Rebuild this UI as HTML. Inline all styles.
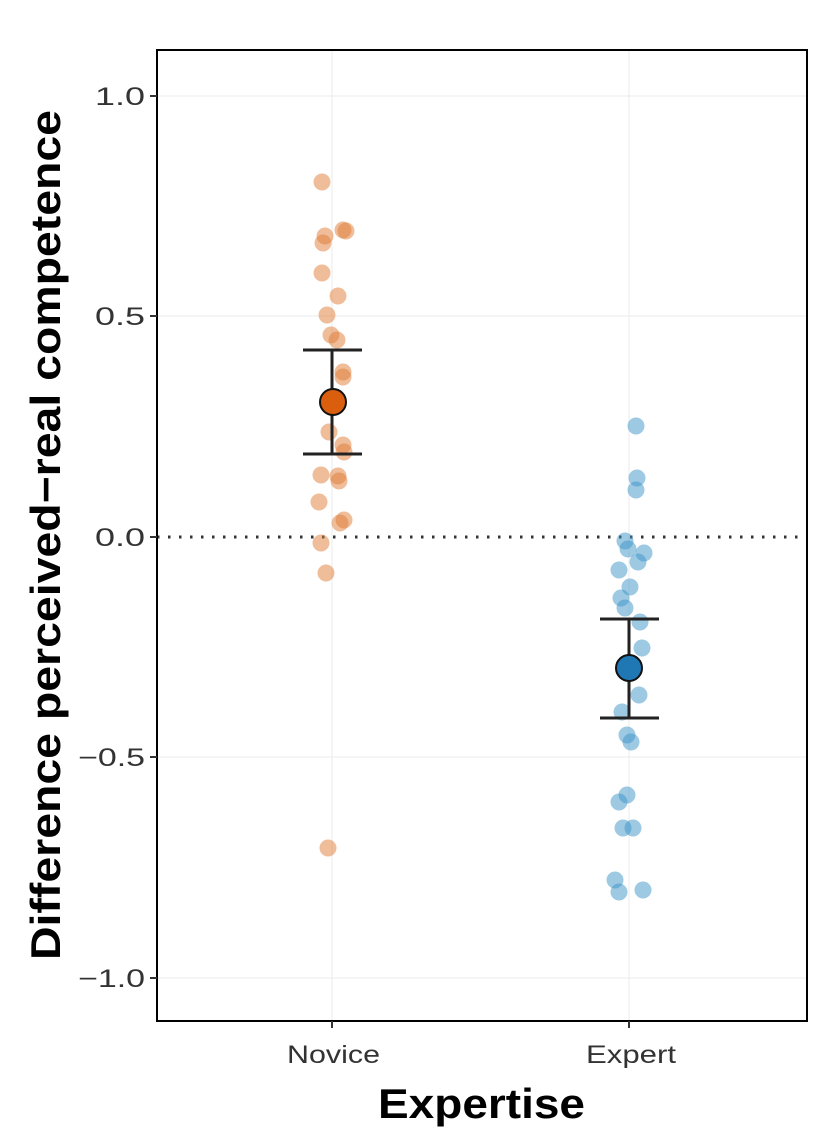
<!DOCTYPE html>
<html><head><style>body{margin:0;background:#fff}</style></head><body>
<svg width="840" height="1138" xmlns="http://www.w3.org/2000/svg" font-family="Liberation Sans, sans-serif">
<rect width="840" height="1138" fill="#fff"/>
<g stroke="#ebebeb" stroke-width="1">
<line x1="157" x2="807" y1="96" y2="96"/><line x1="157" x2="807" y1="316" y2="316"/><line x1="157" x2="807" y1="757" y2="757"/><line x1="157" x2="807" y1="978" y2="978"/>
<line x1="332" x2="332" y1="50" y2="1021"/><line x1="629" x2="629" y1="50" y2="1021"/>
</g>
<line x1="157" x2="807" y1="537" y2="537" stroke="#333" stroke-width="3" stroke-dasharray="2.5,8.5"/>
<g fill="#e07b35" fill-opacity="0.5">
<circle cx="322" cy="182" r="8.5"/><circle cx="325" cy="236" r="8.5"/><circle cx="323" cy="243" r="8.5"/><circle cx="343" cy="230" r="8.5"/><circle cx="346" cy="231" r="8.5"/><circle cx="322" cy="273" r="8.5"/><circle cx="338" cy="296" r="8.5"/><circle cx="327" cy="315" r="8.5"/><circle cx="331" cy="335" r="8.5"/><circle cx="337" cy="340" r="8.5"/><circle cx="343" cy="372" r="8.5"/><circle cx="343" cy="377" r="8.5"/><circle cx="329" cy="432" r="8.5"/><circle cx="343" cy="445" r="8.5"/><circle cx="344" cy="452" r="8.5"/><circle cx="321" cy="475" r="8.5"/><circle cx="338" cy="476" r="8.5"/><circle cx="339" cy="481" r="8.5"/><circle cx="319" cy="502" r="8.5"/><circle cx="344" cy="520" r="8.5"/><circle cx="340" cy="523" r="8.5"/><circle cx="321" cy="543" r="8.5"/><circle cx="326" cy="573" r="8.5"/><circle cx="328" cy="848" r="8.5"/>
</g>
<g fill="#3c93c8" fill-opacity="0.5">
<circle cx="636" cy="426" r="8.5"/><circle cx="637" cy="478" r="8.5"/><circle cx="636" cy="490" r="8.5"/><circle cx="625" cy="541" r="8.5"/><circle cx="628" cy="549" r="8.5"/><circle cx="644" cy="553" r="8.5"/><circle cx="638" cy="562" r="8.5"/><circle cx="619" cy="570" r="8.5"/><circle cx="630" cy="587" r="8.5"/><circle cx="621" cy="598" r="8.5"/><circle cx="625" cy="608" r="8.5"/><circle cx="640" cy="622" r="8.5"/><circle cx="642" cy="648" r="8.5"/><circle cx="639" cy="695" r="8.5"/><circle cx="622" cy="712" r="8.5"/><circle cx="627" cy="735" r="8.5"/><circle cx="631" cy="742" r="8.5"/><circle cx="627" cy="795" r="8.5"/><circle cx="619" cy="802" r="8.5"/><circle cx="623" cy="828" r="8.5"/><circle cx="633" cy="828" r="8.5"/><circle cx="615" cy="880" r="8.5"/><circle cx="619" cy="892" r="8.5"/><circle cx="643" cy="890" r="8.5"/>
</g>
<g stroke="#222" stroke-width="3">
<line x1="332" x2="332" y1="350" y2="454"/><line x1="303" x2="362" y1="350" y2="350"/><line x1="303" x2="362" y1="454" y2="454"/>
<line x1="629" x2="629" y1="619" y2="718"/><line x1="600" x2="659" y1="619" y2="619"/><line x1="600" x2="659" y1="718" y2="718"/>
</g>
<circle cx="333" cy="402" r="13" fill="#d95f0e" stroke="#111" stroke-width="2"/>
<circle cx="629" cy="668" r="13" fill="#1f78b4" stroke="#111" stroke-width="2"/>
<rect x="157" y="50" width="650" height="971" fill="none" stroke="#000" stroke-width="2"/>
<g stroke="#333" stroke-width="2">
<line x1="150" x2="157" y1="96" y2="96"/><line x1="150" x2="157" y1="316" y2="316"/><line x1="150" x2="157" y1="537" y2="537"/><line x1="150" x2="157" y1="757" y2="757"/><line x1="150" x2="157" y1="978" y2="978"/>
<line x1="332" x2="332" y1="1021" y2="1028"/><line x1="629" x2="629" y1="1021" y2="1028"/>
</g>
<g font-size="25" fill="#333" text-anchor="end">
<text x="145" y="105" textLength="50" lengthAdjust="spacingAndGlyphs">1.0</text><text x="145" y="325" textLength="50" lengthAdjust="spacingAndGlyphs">0.5</text><text x="145" y="546" textLength="50" lengthAdjust="spacingAndGlyphs">0.0</text><text x="145" y="766" textLength="67" lengthAdjust="spacingAndGlyphs">−0.5</text><text x="145" y="987" textLength="67" lengthAdjust="spacingAndGlyphs">−1.0</text>
</g>
<g font-size="25" fill="#333">
<text x="287" y="1063" textLength="93" lengthAdjust="spacingAndGlyphs">Novice</text><text x="586" y="1063" textLength="90" lengthAdjust="spacingAndGlyphs">Expert</text>
</g>
<text x="378" y="1118" font-size="42" font-weight="bold" textLength="207" lengthAdjust="spacingAndGlyphs">Expertise</text>
<text transform="translate(60,960) rotate(-90)" font-size="42" font-weight="bold" textLength="850" lengthAdjust="spacingAndGlyphs">Difference perceived−real competence</text>
</svg>
</body></html>
